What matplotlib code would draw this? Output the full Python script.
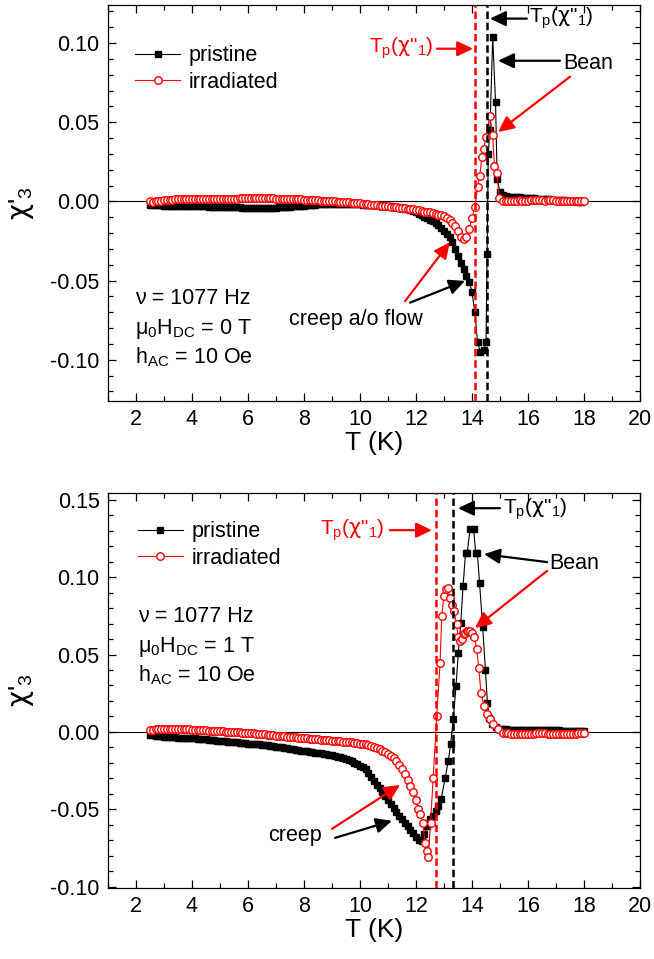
import numpy as np
import matplotlib
matplotlib.use("Agg")
import matplotlib.pyplot as plt
from matplotlib.ticker import MultipleLocator, FormatStrFormatter

plt.rcParams['font.family'] = ['Liberation Sans', 'DejaVu Sans']
plt.rcParams['mathtext.fontset'] = 'custom'
plt.rcParams['mathtext.rm'] = 'Liberation Sans'
plt.rcParams['mathtext.it'] = 'Liberation Sans:italic'
plt.rcParams['mathtext.sf'] = 'DejaVu Sans'
plt.rcParams['axes.unicode_minus'] = False

RED = '#ff0000'
CHI = '$\\mathsf{χ}$'
TP_LABEL = 'T$_\\mathregular{p}$(' + CHI + '"$_\\mathregular{1}$)'

# ---------------- upper panel : mu0 H_DC = 0 T ----------------
# low temperature part, 0.1 K steps from 2.5 K to 12.0 K
T_top_flat = np.round(np.arange(2.5, 12.05, 0.1), 2)
top_pr_flat = [-0.002, -0.002, -0.0022, -0.0024, -0.0025, -0.0026, -0.0027, -0.0028, -0.0028, -0.0029,
               -0.0029, -0.003, -0.003, -0.003, -0.003, -0.003, -0.003, -0.0031, -0.0031, -0.0032,
               -0.0032, -0.0033, -0.0033, -0.0034, -0.0034, -0.0035, -0.0035, -0.0036, -0.0036, -0.0037,
               -0.0037, -0.0038, -0.0038, -0.0039, -0.0039, -0.004, -0.004, -0.0041, -0.0041, -0.0042,
               -0.0042, -0.0042, -0.0042, -0.0041, -0.004, -0.0039, -0.0038, -0.0036, -0.0035, -0.0034,
               -0.0033, -0.0032, -0.0031, -0.003, -0.0029, -0.0027, -0.0025, -0.0023, -0.0021, -0.002,
               -0.0019, -0.0018, -0.0017, -0.0016, -0.0015, -0.0015, -0.0015, -0.0015, -0.0016, -0.0016,
               -0.0017, -0.0017, -0.0018, -0.0018, -0.0019, -0.0019, -0.002, -0.002, -0.0021, -0.0022,
               -0.0023, -0.0024, -0.0025, -0.0027, -0.0028, -0.003, -0.0031, -0.0033, -0.0035, -0.0038,
               -0.0041, -0.0045, -0.005, -0.0056, -0.0063, -0.007]
top_ir_flat = [0.0, -0.0005, 0.0, 0.0003, 0.0005, 0.0007, 0.0009, 0.001, 0.0011, 0.0012,
               0.0012, 0.0013, 0.0013, 0.0014, 0.0014, 0.0015, 0.0015, 0.0015, 0.0016, 0.0016,
               0.0016, 0.0016, 0.0017, 0.0017, 0.0017, 0.0017, 0.0017, 0.0018, 0.0018, 0.0018,
               0.0018, 0.0018, 0.0019, 0.0019, 0.0019, 0.002, 0.002, 0.002, 0.002, 0.002,
               0.002, 0.002, 0.002, 0.0019, 0.0019, 0.0018, 0.0018, 0.0017, 0.0017, 0.0016,
               0.0016, 0.0015, 0.0014, 0.0013, 0.0012, 0.0011, 0.001, 0.0009, 0.0008, 0.0007,
               0.0006, 0.0005, 0.0004, 0.0003, 0.0002, 0.0001, 0.0, -0.0001, -0.0002, -0.0003,
               -0.0005, -0.0006, -0.0008, -0.0009, -0.0011, -0.0013, -0.0014, -0.0016, -0.0018, -0.002,
               -0.0022, -0.0024, -0.0026, -0.0028, -0.003, -0.0032, -0.0034, -0.0036, -0.0038, -0.004,
               -0.0042, -0.0044, -0.0046, -0.0048, -0.005, -0.0053]

# transition region
T_top_pr_tr = [12.1, 12.2, 12.3, 12.4, 12.5, 12.6, 12.7, 12.8, 12.9, 13.0, 13.1, 13.2, 13.3, 13.4,
               13.5, 13.6, 13.7, 13.8, 13.9, 14.0, 14.1, 14.2, 14.3, 14.42, 14.5, 14.54, 14.58,
               14.64, 14.74, 14.84, 14.9, 15.0]
top_pr_tr = [-0.008, -0.0088, -0.0097, -0.0107, -0.0115, -0.0125, -0.0138, -0.0152, -0.0168, -0.0185,
             -0.0205, -0.0225, -0.0255, -0.030, -0.0345, -0.039, -0.0425, -0.047, -0.051, -0.057,
             -0.070, -0.089, -0.095, -0.094, -0.089, -0.033, 0.030, 0.045, 0.1035, 0.063, 0.014, 0.006]
T_top_ir_tr = [12.1, 12.2, 12.3, 12.4, 12.5, 12.6, 12.7, 12.8, 12.9, 13.0, 13.1, 13.2, 13.3, 13.4,
               13.5, 13.6, 13.7, 13.8, 13.9, 14.0, 14.1, 14.2, 14.28, 14.35, 14.42, 14.49, 14.64,
               14.74, 14.8, 14.88, 14.98]
top_ir_tr = [-0.0056, -0.006, -0.0064, -0.0067, -0.007, -0.0074, -0.0078, -0.0083, -0.0088, -0.0094,
             -0.0104, -0.012, -0.0138, -0.0157, -0.019, -0.0222, -0.024, -0.0225, -0.0175, -0.0105,
             -0.0035, 0.009, 0.0162, 0.0278, 0.033, 0.0405, 0.054, 0.0416, 0.0225, 0.018, 0.002]

# normal state
T_top_pr_hi = np.round(np.arange(15.1, 17.95, 0.1), 2)
top_pr_hi = [0.004, 0.0035, 0.003, 0.003, 0.0028, 0.0026, 0.0025, 0.0024, 0.0022, 0.002,
             0.002, 0.0019, 0.0018, 0.0017, 0.0016, 0.0015, 0.0014, 0.0012, 0.0011, 0.001,
             0.0009, 0.0008, 0.0006, 0.0005, 0.0004, 0.0002, 0.0, -0.0002, -0.0004]
T_top_ir_hi = np.round(np.arange(15.1, 18.05, 0.1), 2)
top_ir_hi = [0.0003, 0.0004, 0.0002, 0.0003, 0.0004, 0.0005, 0.0006, 0.0005, 0.0004, 0.0005,
             0.0006, 0.0007, 0.0008, 0.0007, 0.0006, 0.0005, 0.0006, 0.0007, 0.0006, 0.0005,
             0.0004, 0.0003, 0.0004, 0.0003, 0.0002, 0.0002, 0.0001, 0.0, 0.0, 0.0]

# ---------------- lower panel : mu0 H_DC = 1 T ----------------
T_bot_flat = np.round(np.arange(2.5, 10.05, 0.1), 2)
bot_pr_flat = [-0.002, -0.0022, -0.0024, -0.0026, -0.0028, -0.003, -0.0031, -0.0033, -0.0034, -0.0035,
               -0.0036, -0.0037, -0.0038, -0.0039, -0.004, -0.0041, -0.0042, -0.0043, -0.0044, -0.0046,
               -0.0048, -0.005, -0.0052, -0.0054, -0.0056, -0.0058, -0.006, -0.0061, -0.0062, -0.0063,
               -0.0065, -0.0067, -0.0069, -0.0071, -0.0073, -0.0075, -0.0077, -0.0079, -0.008, -0.0081,
               -0.0083, -0.0085, -0.0087, -0.0089, -0.0091, -0.0094, -0.0097, -0.01, -0.0103, -0.0106,
               -0.0109, -0.0112, -0.0115, -0.0118, -0.012, -0.0122, -0.0125, -0.0128, -0.013, -0.0133,
               -0.0136, -0.0139, -0.0142, -0.0145, -0.0148, -0.0152, -0.0156, -0.016, -0.0165, -0.017,
               -0.0176, -0.0183, -0.019, -0.0198, -0.0207, -0.0217]
bot_ir_flat = [0.0013, 0.0015, 0.0017, 0.0019, 0.002, 0.002, 0.002, 0.002, 0.0019, 0.0019,
               0.0018, 0.0018, 0.0017, 0.0017, 0.0016, 0.0015, 0.0014, 0.0013, 0.0012, 0.0011,
               0.001, 0.0009, 0.0008, 0.0006, 0.0005, 0.0004, 0.0003, 0.0002, 0.0001, 0.0,
               -0.0001, -0.0002, -0.0003, -0.0004, -0.0005, -0.0006, -0.0008, -0.001, -0.0011, -0.0013,
               -0.0014, -0.0016, -0.0018, -0.002, -0.0021, -0.0023, -0.0025, -0.0027, -0.0029, -0.003,
               -0.0032, -0.0034, -0.0035, -0.0037, -0.0039, -0.004, -0.0042, -0.0044, -0.0045, -0.0047,
               -0.0048, -0.005, -0.0051, -0.0053, -0.0054, -0.0056, -0.0057, -0.0059, -0.006, -0.0062,
               -0.0064, -0.0066, -0.0068, -0.007, -0.0072, -0.0075]

T_bot_pr_tr = [10.1, 10.2, 10.3, 10.4, 10.5, 10.6, 10.7, 10.8, 10.9, 11.0, 11.1, 11.2, 11.3, 11.4,
               11.5, 11.6, 11.7, 11.8, 11.9, 12.0, 12.1, 12.2, 12.3, 12.4, 12.5, 12.6, 12.7, 12.8,
               12.9, 13.04, 13.15, 13.24, 13.33, 13.43, 13.51, 13.6, 13.68, 13.77, 13.83, 13.93,
               14.06, 14.13, 14.19, 14.27, 14.38, 14.48, 14.55, 14.62, 14.72, 14.85, 15.0]
bot_pr_tr = [-0.0228, -0.024, -0.0265, -0.029, -0.0315, -0.034, -0.0365, -0.039, -0.0415, -0.044,
             -0.0465, -0.049, -0.0515, -0.054, -0.0563, -0.0587, -0.061, -0.063, -0.065, -0.068,
             -0.070, -0.0705, -0.066, -0.061, -0.056, -0.054, -0.051, -0.048, -0.043,
             -0.030, -0.019, -0.0077, 0.0082, 0.0297, 0.051, 0.0705, 0.094, 0.1157, 0.1157, 0.131,
             0.131, 0.1157, 0.1157, 0.0963, 0.068, 0.040, 0.019, 0.009, 0.005, 0.003, 0.002]
T_bot_ir_tr = [10.1, 10.2, 10.3, 10.4, 10.5, 10.6, 10.7, 10.8, 10.9, 11.0, 11.1, 11.2, 11.3, 11.4,
               11.5, 11.6, 11.7, 11.8, 11.9, 12.0, 12.08, 12.16, 12.24, 12.32, 12.4, 12.44, 12.52,
               12.61, 12.74, 12.86, 12.92, 13.0, 13.07, 13.13, 13.21, 13.29, 13.36, 13.45, 13.51,
               13.57, 13.63, 13.7, 13.75, 13.81, 13.87, 13.93, 13.99, 14.08, 14.17, 14.24, 14.32,
               14.43, 14.52, 14.64, 14.76, 14.94, 15.12]
bot_ir_tr = [-0.0078, -0.0081, -0.0086, -0.0092, -0.0098, -0.0105, -0.0112, -0.012, -0.013, -0.014,
             -0.0153, -0.017, -0.019, -0.0215, -0.024, -0.027, -0.031, -0.035, -0.039, -0.044,
             -0.0495, -0.053, -0.0585, -0.0714, -0.077, -0.081, -0.0585, -0.030, 0.010, 0.0447,
             0.0747, 0.088, 0.092, 0.093, 0.0866, 0.082, 0.078, 0.0695, 0.061, 0.059, 0.060, 0.063,
             0.064, 0.065, 0.065, 0.065, 0.064, 0.061, 0.0534, 0.0415, 0.0254, 0.0168, 0.0114,
             0.0083, 0.005, 0.0021, -0.0004]

T_bot_pr_hi = np.round(np.arange(15.1, 18.05, 0.1), 2)
bot_pr_hi = [0.0018, 0.0016, 0.0015, 0.0014, 0.0013, 0.0012, 0.0012, 0.0011, 0.0011, 0.001,
             0.001, 0.001, 0.001, 0.0011, 0.0011, 0.0012, 0.0012, 0.0011, 0.0011, 0.001,
             0.001, 0.0009, 0.0009, 0.0008, 0.0008, 0.0007, 0.0007, 0.0006, 0.0006, 0.0005]
T_bot_ir_hi = np.round(np.arange(15.2, 18.05, 0.1), 2)
bot_ir_hi = [-0.0008, -0.001, -0.0012, -0.0013, -0.0013, -0.0013, -0.0012, -0.0012, -0.0012, -0.0011,
             -0.0011, -0.001, -0.001, -0.001, -0.001, -0.0011, -0.0011, -0.0012, -0.0012, -0.0012,
             -0.0013, -0.0013, -0.0012, -0.0012, -0.0012, -0.0011, -0.001, -0.001, -0.0008]

# peak temperatures of chi''_1
Tp_top = {'pristine': 14.55, 'irradiated': 14.12}
Tp_bot = {'pristine': 13.33, 'irradiated': 12.72}


def join(*parts):
    return np.concatenate([np.asarray(p, dtype=float) for p in parts])


def arrow(ax, tail, tip, color):
    ax.annotate('', xy=tip, xytext=tail,
                arrowprops=dict(arrowstyle='-|>,head_length=0.8,head_width=0.38',
                                color=color, lw=1.6, shrinkA=0, shrinkB=0,
                                mutation_scale=12), zorder=6)


def setup(ax, ylim):
    ax.set_xlim(1, 20)
    ax.set_ylim(*ylim)
    ax.xaxis.set_major_locator(MultipleLocator(2))
    ax.xaxis.set_minor_locator(MultipleLocator(1))
    ax.yaxis.set_major_locator(MultipleLocator(0.05))
    ax.yaxis.set_minor_locator(MultipleLocator(0.01))
    ax.yaxis.set_major_formatter(FormatStrFormatter('%.2f'))
    ax.tick_params(which='both', direction='in', top=True, right=True, width=0.9)
    ax.tick_params(which='major', length=6, labelsize=15.5, pad=6)
    ax.tick_params(which='minor', length=3.5)
    for s in ax.spines.values():
        s.set_linewidth(0.9)
    ax.axhline(0, color='k', lw=0.8, zorder=1)
    ax.set_xlabel('T (K)', fontsize=19)
    ax.set_ylabel(CHI + "'$_\\mathregular{3}$", fontsize=20)
    ax.yaxis.set_label_coords(-0.135, 0.5)
    ax.xaxis.set_label_coords(0.5, -0.075)


def draw(ax, T_pr, pr, T_ir, ir, Tp):
    ax.plot(T_pr, pr, '-s', color='k', lw=0.8, ms=4.2, mec='k', mfc='k', zorder=2, label='pristine')
    ax.plot(T_ir, ir, '-o', color=RED, lw=0.8, ms=5.4, mec=RED, mfc='white', mew=1.0,
            zorder=3, label='irradiated')
    ax.axvline(Tp['irradiated'], color=RED, ls=(0, (3, 1.5)), lw=1.8, zorder=4)
    ax.axvline(Tp['pristine'], color='k', ls=(0, (3, 1.5)), lw=1.8, zorder=4)


fig = plt.figure(figsize=(6.54, 9.59), dpi=100)
ax1 = fig.add_axes([0.1651, 0.5819, 0.8135, 0.4129])
ax2 = fig.add_axes([0.1651, 0.0740, 0.8135, 0.4119])

# upper panel
setup(ax1, (-0.126, 0.124))
draw(ax1, join(T_top_flat, T_top_pr_tr, T_top_pr_hi), join(top_pr_flat, top_pr_tr, top_pr_hi),
     join(T_top_flat, T_top_ir_tr, T_top_ir_hi), join(top_ir_flat, top_ir_tr, top_ir_hi), Tp_top)
ax1.legend(loc='upper left', bbox_to_anchor=(0.035, 0.92), frameon=False, fontsize=15.5,
           handlelength=2.1, handletextpad=0.4, labelspacing=0.25, borderaxespad=0, numpoints=1)
ax1.text(1.96, -0.065, 'ν = 1077 Hz', fontsize=15.5, va='baseline')
ax1.text(1.96, -0.0838, 'μ$_\\mathregular{0}$H$_\\mathregular{DC}$ = 0 T', fontsize=15.5, va='baseline')
ax1.text(1.96, -0.1024, 'h$_\\mathregular{AC}$ = 10 Oe', fontsize=15.5, va='baseline')
ax1.text(9.86, -0.0745, 'creep a/o flow', fontsize=15.5, ha='center', va='center')
arrow(ax1, (11.61, -0.063), (13.21, -0.0258), RED)
arrow(ax1, (11.79, -0.0639), (13.75, -0.0502), 'k')
ax1.text(17.25, 0.0869, 'Bean', fontsize=15.5, va='center')
arrow(ax1, (17.14, 0.0888), (14.93, 0.0888), 'k')
arrow(ax1, (17.5, 0.0787), (14.93, 0.0438), RED)
ax1.text(16.02, 0.1154, TP_LABEL, fontsize=15, va='center')
arrow(ax1, (15.96, 0.1154), (14.64, 0.1154), 'k')
ax1.text(12.61, 0.0964, TP_LABEL, fontsize=15, va='center', ha='right', color=RED)
arrow(ax1, (12.75, 0.0964), (14.04, 0.0964), RED)

# lower panel
setup(ax2, (-0.1008, 0.1543))
draw(ax2, join(T_bot_flat, T_bot_pr_tr, T_bot_pr_hi), join(bot_pr_flat, bot_pr_tr, bot_pr_hi),
     join(T_bot_flat, T_bot_ir_tr, T_bot_ir_hi), join(bot_ir_flat, bot_ir_tr, bot_ir_hi), Tp_bot)
ax2.legend(loc='upper left', bbox_to_anchor=(0.04, 0.95), frameon=False, fontsize=15.5,
           handlelength=2.1, handletextpad=0.4, labelspacing=0.25, borderaxespad=0, numpoints=1)
ax2.text(2.07, 0.071, 'ν = 1077 Hz', fontsize=15.5, va='baseline')
ax2.text(2.07, 0.0516, 'μ$_\\mathregular{0}$H$_\\mathregular{DC}$ = 1 T', fontsize=15.5, va='baseline')
ax2.text(2.07, 0.0329, 'h$_\\mathregular{AC}$ = 10 Oe', fontsize=15.5, va='baseline')
ax2.text(7.68, -0.0671, 'creep', fontsize=15.5, ha='center', va='center')
arrow(ax2, (9.0, -0.0626), (11.43, -0.0342), RED)
arrow(ax2, (9.11, -0.0684), (11.14, -0.0574), 'k')
ax2.text(16.75, 0.109, 'Bean', fontsize=15.5, va='center')
arrow(ax2, (16.68, 0.1097), (14.43, 0.1148), 'k')
arrow(ax2, (16.68, 0.104), (14.11, 0.0671), RED)
ax2.text(15.1, 0.1439, TP_LABEL, fontsize=15, va='center')
arrow(ax2, (15.0, 0.1445), (13.5, 0.1445), 'k')
ax2.text(10.86, 0.1303, TP_LABEL, fontsize=15, va='center', ha='right', color=RED)
arrow(ax2, (11.07, 0.1303), (12.57, 0.1303), RED)

fig.savefig('out.png', dpi=100)
